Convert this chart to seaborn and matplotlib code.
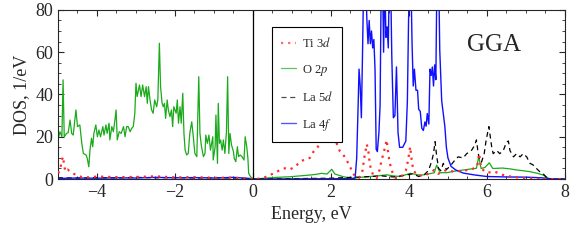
import numpy as np
import pandas as pd
import seaborn as sns
import matplotlib.pyplot as plt

# O 2p (green)
o2p_e = [-5.0, -4.95, -4.90, -4.87, -4.84, -4.78, -4.74, -4.69, -4.65, -4.61, -4.54, -4.50, -4.44, -4.39,
         -4.35, -4.28, -4.25, -4.21, -4.18, -4.14, -4.11, -4.08, -4.03, -3.99, -3.95, -3.91, -3.85, -3.82,
         -3.77, -3.74, -3.69, -3.67, -3.62, -3.58, -3.54, -3.51, -3.48, -3.43, -3.38, -3.32, -3.28, -3.24,
         -3.20, -3.15, -3.11, -3.07, -3.03, -3.00, -2.97, -2.91, -2.87, -2.83, -2.78, -2.74, -2.71, -2.68,
         -2.64, -2.60, -2.56, -2.52, -2.47, -2.44, -2.40, -2.37, -2.33, -2.30, -2.27, -2.24, -2.20, -2.17,
         -2.13, -2.09, -2.06, -2.03, -1.97, -1.94, -1.91, -1.87, -1.84, -1.80, -1.77, -1.74, -1.70, -1.66,
         -1.62, -1.57, -1.53, -1.49, -1.44, -1.39, -1.36, -1.32, -1.27, -1.23, -1.21, -1.17, -1.13, -1.09,
         -1.03, -1.02, -0.97, -0.95, -0.91, -0.89, -0.86, -0.83, -0.79, -0.76, -0.72, -0.68, -0.65, -0.62,
         -0.59, -0.55, -0.50, -0.48, -0.44, -0.40, -0.37, -0.33, -0.28, -0.23, -0.20, -0.16, -0.13, -0.11,
         -0.06, 0.0, 0.3, 0.6, 0.95, 1.2, 1.46, 1.6, 1.76, 1.9, 2.02, 2.1, 2.3, 2.53, 2.74, 3.0, 3.2,
         3.43, 3.6, 3.77, 4.03, 4.3, 4.5, 4.65, 4.71, 4.8, 4.96, 5.2, 5.39, 5.6, 5.73, 5.79, 5.85, 5.95,
         6.06, 6.15, 6.4, 6.6, 6.76, 6.9, 7.1, 7.3, 7.44, 7.61, 8.0]
o2p_dos = [18.5, 22.4, 20.0, 46.9, 20.0, 21.6, 21.9, 27.9, 21.6, 20.8, 32.7, 24.8, 25.6, 16.9,
           12.1, 11.4, 9.8, 5.8, 13.7, 19.3, 15.3, 21.6, 25.6, 20.0, 23.2, 20.0, 24.8, 20.8,
           25.6, 21.6, 26.4, 18.5, 24.8, 22.4, 27.9, 32.7, 18.5, 22.4, 21.6, 24.8, 20.0, 24.8,
           24.8, 22.4, 24.0, 24.8, 31.1, 45.3, 39.0, 44.5, 39.0, 44.5, 39.0, 43.7, 35.8, 43.7,
           37.4, 32.7, 31.1, 37.4, 34.2, 37.4, 64.2, 43.7, 35.8, 34.2, 35.8, 28.7, 37.4, 32.7,
           29.5, 32.7, 24.8, 34.2, 31.1, 37.4, 26.4, 34.2, 26.4, 40.6, 21.6, 13.7, 11.4, 12.1,
           21.6, 27.1, 20.0, 12.1, 10.6, 48.4, 21.6, 15.3, 10.6, 12.1, 20.8, 16.9, 20.8, 13.7,
           20.0, 9.0, 15.3, 30.3, 7.4, 35.8, 16.9, 18.5, 13.7, 18.5, 12.1, 22.4, 48.4, 12.1,
           21.6, 16.1, 12.9, 9.8, 8.2, 15.3, 10.6, 11.4, 10.6, 9.0, 20.0, 15.3, 9.8, 2.7,
           1.1, 0.0, 0.4, 0.8, 1.1, 1.5, 1.9, 2.2, 2.7, 2.4, 4.6, 2.4, 1.2, 0.3, 0.8, 1.2, 1.5,
           2.0, 1.5, 1.2, 2.7, 1.8, 2.4, 3.0, 6.6, 3.0, 3.0, 3.8, 4.3, 4.8, 5.1, 10.6, 5.0, 5.5,
           7.7, 5.0, 5.2, 4.8, 4.3, 4.0, 3.5, 2.7, 1.9, 0.0, 0.0]

# Ti 3d (red dotted)
ti3d_e = [-5.0, -4.95, -4.90, -4.87, -4.84, -4.80, -4.75, -4.69, -4.60, -4.52, -4.40, -4.20, -4.0,
          -3.5, -3.0, -2.5, -2.0, -1.5, -1.0, -0.5, -0.1, 0.0, 0.1, 0.35, 0.56, 0.69, 0.82, 0.95,
          1.08, 1.21, 1.33, 1.46, 1.55, 1.63, 1.72, 1.80, 1.89, 1.97, 2.02, 2.06, 2.10, 2.15, 2.23,
          2.32, 2.40, 2.49, 2.57, 2.65, 2.72, 2.80, 2.86, 2.92, 2.96, 3.00, 3.08, 3.17, 3.24, 3.30,
          3.36, 3.43, 3.47, 3.51, 3.58, 3.66, 3.80, 3.92, 3.98, 4.03, 4.07, 4.11, 4.20, 4.35, 4.50,
          4.65, 4.75, 4.96, 5.15, 5.40, 5.60, 5.75, 5.80, 5.85, 6.0, 6.2, 6.4, 6.6, 6.9, 7.2, 7.5, 8.0]
ti3d_dos = [2.8, 4.0, 9.0, 10.6, 5.8, 3.5, 4.5, 3.5, 2.5, 1.9, 1.0, 0.8, 1.2,
            0.9, 1.0, 1.3, 0.8, 0.9, 0.6, 0.7, 0.2, 0.0, 0.0, 1.1, 3.0, 4.2, 5.1, 4.6,
            5.8, 8.2, 9.3, 10.0, 12.9, 14.4, 16.7, 19.3, 21.6, 24.0, 26.7, 23.0, 20.0, 16.7, 13.1,
            11.4, 9.0, 5.8, 2.5, 1.0, 0.5, 3.0, 10.6, 16.5, 13.0, 6.6, 1.9, 0.5, 4.0, 9.0,
            13.0, 18.5, 12.0, 7.4, 3.0, 0.5, 1.0, 4.0, 9.0, 15.3, 9.0, 4.3, 2.0, 1.5, 2.5,
            4.3, 2.5, 4.3, 3.5, 4.0, 4.5, 6.0, 12.1, 5.0, 3.0, 3.5, 2.0, 1.2, 0.5, 0.2, 0.0, 0.0]

# La 5d (black dashed)
la5d_e = [-5.0, -4.5, -4.0, -3.5, -3.0, -2.5, -2.0, -1.5, -1.0, -0.5, -0.1, 0.0, 1.0, 2.0, 2.5,
          2.8, 3.0, 3.3, 3.6, 3.9, 4.1, 4.25, 4.4, 4.5, 4.58, 4.63, 4.67, 4.71, 4.76, 4.82, 4.88,
          4.96, 5.05, 5.18, 5.26, 5.39, 5.48, 5.61, 5.69, 5.73, 5.77, 5.81, 5.86, 5.93, 5.98, 6.05,
          6.09, 6.12, 6.16, 6.25, 6.33, 6.42, 6.50, 6.55, 6.59, 6.68, 6.76, 6.85, 6.93, 7.02, 7.10,
          7.19, 7.27, 7.36, 7.44, 7.53, 7.62, 8.0]
la5d_dos = [0.6, 0.5, 0.7, 0.5, 0.8, 0.6, 0.7, 0.5, 0.6, 0.5, 0.2, 0.0, 0.2, 0.4, 0.8,
            1.0, 1.2, 1.5, 1.0, 1.8, 2.5, 1.2, 2.2, 4.0, 8.2, 12.0, 17.7, 11.0, 5.0, 4.0, 7.4,
            4.5, 6.0, 9.0, 10.5, 10.0, 12.0, 13.7, 16.1, 18.5, 13.0, 9.0, 8.0, 12.0, 18.5, 24.8,
            19.5, 15.5, 12.0, 13.5, 12.0, 13.5, 17.4, 18.0, 13.5, 10.5, 12.0, 10.5, 12.0, 10.5, 7.5,
            6.6, 5.0, 3.4, 2.5, 0.8, 0.0, 0.0]

# La 4f (blue), values above 80 run off the top of the frame
la4f_e = [-5.0, -4.5, -4.0, -3.5, -3.0, -2.5, -2.0, -1.5, -1.0, -0.5, -0.1, 0.0, 2.55, 2.62, 2.66,
          2.70, 2.72, 2.75, 2.78, 2.81, 2.84, 2.88, 2.92, 2.95, 2.98, 3.01, 3.04, 3.07, 3.10, 3.13,
          3.16, 3.19, 3.23, 3.26, 3.29, 3.32, 3.35, 3.38, 3.41, 3.44, 3.47, 3.50, 3.53, 3.56, 3.60,
          3.64, 3.68, 3.72, 3.76, 3.84, 3.92, 3.96, 3.99, 4.02, 4.05, 4.08, 4.11, 4.14, 4.18, 4.22,
          4.25, 4.29, 4.33, 4.37, 4.41, 4.44, 4.47, 4.51, 4.54, 4.57, 4.60, 4.63, 4.66, 4.69, 4.72,
          4.76, 4.79, 4.84, 4.88, 4.92, 4.96, 5.00, 5.08, 5.20, 5.40, 5.70, 6.00, 6.50, 7.00, 7.40,
          7.60, 8.0]
la4f_dos = [0.3, 0.5, 0.4, 0.6, 0.5, 0.8, 0.6, 0.7, 0.5, 0.8, 0.3, 0.0, 0.2, 0.5, 10.0,
            37.0, 52.0, 44.0, 29.0, 60.0, 95.0, 100.0, 76.0, 64.0, 75.0, 64.0, 70.0, 62.0, 66.0, 52.0,
            14.0, 13.0, 22.0, 35.0, 95.0, 100.0, 60.0, 95.0, 67.0, 72.0, 62.0, 100.0, 95.0, 58.0, 29.0,
            30.0, 53.0, 22.0, 15.0, 15.0, 18.0, 37.0, 75.0, 100.0, 95.0, 64.0, 44.0, 52.0, 42.0, 42.0,
            33.0, 32.0, 24.0, 23.0, 27.0, 25.0, 31.0, 26.0, 52.0, 49.0, 53.0, 44.0, 54.0, 47.0, 100.0,
            100.0, 61.0, 37.0, 31.0, 25.0, 15.0, 10.0, 6.0, 4.3, 2.8, 1.9, 1.2, 1.0, 0.9, 0.6,
            0.2, 0.0]

sns.set_style("ticks")
plt.rcParams['font.family'] = ['Liberation Serif', 'DejaVu Serif']
plt.rcParams['mathtext.fontset'] = 'stix'

fig, ax = plt.subplots(figsize=(5.8, 2.41), dpi=100)
fig.subplots_adjust(left=0.1, right=0.974, top=0.959, bottom=0.257)

sns.lineplot(x=ti3d_e, y=ti3d_dos, ax=ax, color='#ff2a2a', linestyle=(0, (1, 2.2)), linewidth=1.6,
             estimator=None, label=r'Ti 3$d$', zorder=3)
sns.lineplot(x=o2p_e, y=o2p_dos, ax=ax, color='#1aaa1a', linewidth=0.9, estimator=None, label=r'O 2$p$')
sns.lineplot(x=la5d_e, y=la5d_dos, ax=ax, color='black', linestyle=(0, (4, 3)), linewidth=0.9,
             estimator=None, label=r'La 5$d$')
sns.lineplot(x=la4f_e, y=la4f_dos, ax=ax, color='#1010ff', linewidth=1.0, estimator=None, label=r'La 4$f$')

ax.axvline(0, color='black', linewidth=0.9)
ax.set_xlim(-5, 8)
ax.set_ylim(0, 80)
ax.set_xticks([-4, -2, 0, 2, 4, 6, 8])
ax.set_xticks(np.arange(-5, 8.01, 0.5), minor=True)
ax.set_yticks([0, 20, 40, 60, 80])
ax.set_yticks(np.arange(0, 81, 5), minor=True)
ax.tick_params(direction='in', which='both', top=True, right=True, labelsize=13)
ax.tick_params(which='major', length=4, width=0.8)
ax.tick_params(which='minor', length=2, width=0.6)
for s in ax.spines.values():
    s.set_linewidth(0.8)

ax.set_xlabel('Energy, eV', fontsize=13)
ax.set_ylabel('DOS, 1/eV', fontsize=13)

ax.text(0.86, 0.795, 'GGA', transform=ax.transAxes, fontsize=18, ha='center', va='center')

leg = ax.legend(loc='upper left', bbox_to_anchor=(0.422, 0.899), fontsize=9, frameon=True,
                fancybox=False, edgecolor='black', framealpha=1, handlelength=1.2,
                labelspacing=1.0, borderpad=0.75, handletextpad=0.45, borderaxespad=0)
leg.get_frame().set_linewidth(0.8)
for h in leg.get_lines():
    h.set_alpha(0.7)

plt.savefig('out.png', dpi=100)
